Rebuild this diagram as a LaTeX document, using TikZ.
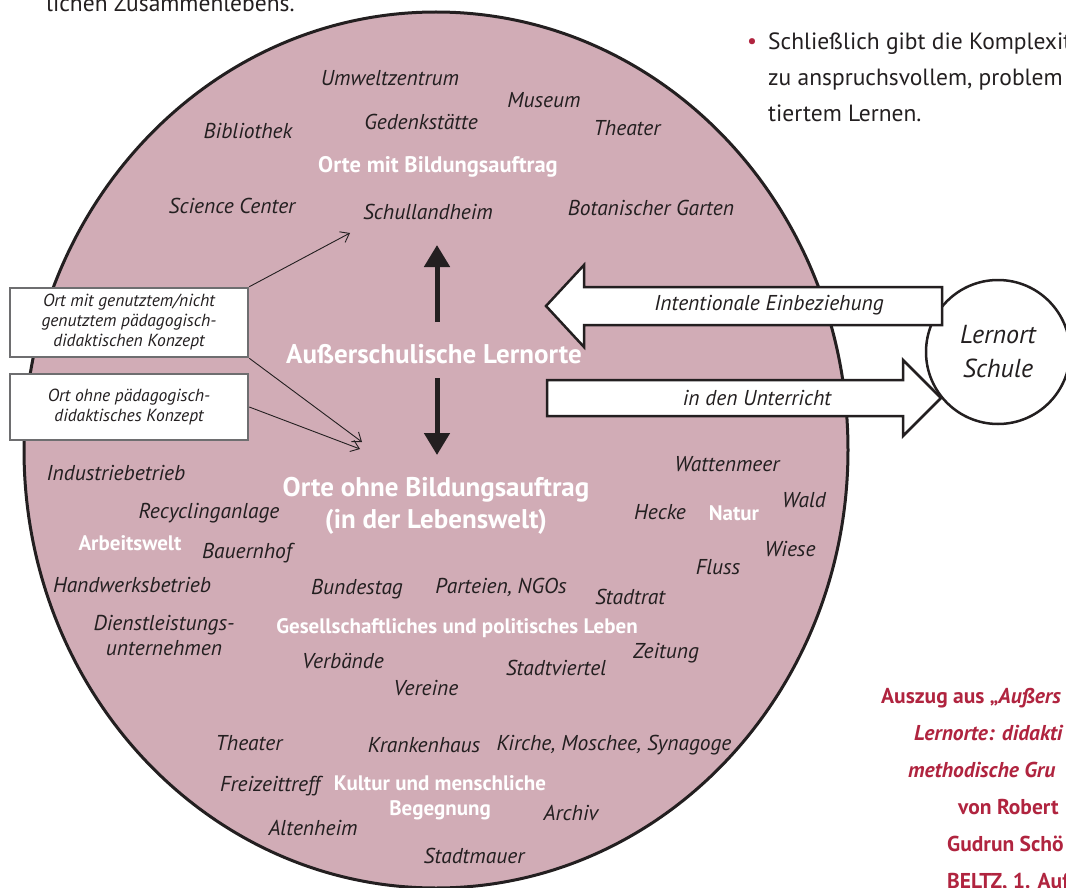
\documentclass[tikz,border=0pt]{standalone}
\usepackage{fontspec}
\setmainfont{PT Sans}
\usetikzlibrary{arrows.meta}

\definecolor{mauve}{RGB}{209,172,182}
\definecolor{ink}{RGB}{35,31,32}
\definecolor{frame}{RGB}{110,110,112}
\definecolor{beltzred}{RGB}{176,36,63}

\begin{document}
\begin{tikzpicture}[x=1pt, y=-1pt,
    place/.style={font=\itshape\fontsize{21.5}{24}\selectfont, text=ink, inner sep=0pt, align=center},
    field/.style={font=\bfseries\fontsize{21}{25}\selectfont, text=white, inner sep=0pt, align=center},
    title/.style={font=\bfseries\fontsize{27}{32}\selectfont, text=white, inner sep=0pt, align=center},
    notebox/.style={draw=frame, line width=2.5pt, fill=white, minimum width=238pt, inner sep=2pt,
        align=center, font=\itshape\fontsize{17.5}{20}\selectfont, text=ink},
    pointer/.style={ink, line width=0.9pt, -{Straight Barb[length=8pt,width=12pt]}},
    bigarrow/.style={ink, line width=5pt, -{Triangle[length=22pt,width=25pt]}},
    flow/.style={draw=ink, line width=2.5pt, fill=white, line join=miter},
    page/.style={font=\fontsize{23.5}{36}\selectfont, text=ink, anchor=base west, inner sep=0pt},
    credit/.style={font=\bfseries\fontsize{21.5}{37}\selectfont, text=beltzred, anchor=base west, inner sep=0pt}
]
    % Page size
    \useasboundingbox (0,0) rectangle (1066,888);
    \clip (0,0) rectangle (1066,888);

    % Surrounding page text
    \node[page] (prev) at (46,12) {lichen Zusammenlebens.};
    \node[text=beltzred, font=\fontsize{22}{22}\selectfont, anchor=base, inner sep=0pt] (bullet) at (752,49) {•};
    \node[page] (col1) at (768,50) {Schließlich gibt die Komplexit};
    \node[page] (col2) at (768,86) {zu anspruchsvollem, problem};
    \node[page] (col3) at (768,122) {tiertem Lernen.};

    % Big ellipse of learning places
    \draw[fill=mauve, draw=ink, line width=3pt] (436,450) ellipse [x radius=412pt, y radius=438pt];

    % Places with educational mission
    \node[place] (umwelt) at (390,78) {Umweltzentrum};
    \node[place] (museum) at (544,100) {Museum};
    \node[place] (biblio) at (248,131) {Bibliothek};
    \node[place] (gedenk) at (421,122) {Gedenkstätte};
    \node[place] (theaterA) at (627,128) {Theater};
    \node[field, font=\bfseries\fontsize{22.5}{25}\selectfont] (mitauftrag) at (438,167) {Orte mit Bildungsauftrag};
    \node[place] (science) at (232,206) {Science Center};
    \node[place] (schul) at (428,212) {Schullandheim};
    \node[place] (botanik) at (651,208) {Botanischer Garten};

    % Centre
    \node[title] (aussen) at (434,354) {Außerschulische Lernorte};
    \coordinate (upfoot) at (437,322);
    \coordinate (uptip) at (437,245);
    \coordinate (downfoot) at (437,378);
    \coordinate (downtip) at (437,455);
    \draw[bigarrow] (upfoot) -- (uptip);
    \draw[bigarrow] (downfoot) -- (downtip);

    % Places without educational mission
    \node[title] (ohneauftrag) at (436,506) {Orte ohne Bildungsauftrag\\(in der Lebenswelt)};
    \node[place] (industrie) at (116,473) {Industriebetrieb};
    \node[place] (recycling) at (209,513) {Recyclinganlage};
    \node[field] (arbeit) at (130,543) {Arbeitswelt};
    \node[place] (bauern) at (247,553) {Bauernhof};
    \node[place] (handwerk) at (132,585) {Handwerksbetrieb};
    \node[place, font=\itshape\fontsize{21.5}{25}\selectfont] (dienst) at (164,636) {Dienstleistungs-\\unternehmen};

    \node[place] (watt) at (727,464) {Wattenmeer};
    \node[place] (wald) at (804,500) {Wald};
    \node[place] (hecke) at (660,512) {Hecke};
    \node[field] (natur) at (734,513) {Natur};
    \node[place] (wiese) at (790,549) {Wiese};
    \node[place] (fluss) at (718,567) {Fluss};

    \node[place] (bundestag) at (357,589) {Bundestag};
    \node[place] (parteien) at (501,587) {Parteien, NGOs};
    \node[place] (stadtrat) at (630,597) {Stadtrat};
    \node[field] (gesell) at (457,628) {Gesellschaftliches und politisches Leben};
    \node[place] (verbaende) at (343,661) {Verbände};
    \node[place] (zeitung) at (666,653) {Zeitung};
    \node[place] (viertel) at (556,668) {Stadtviertel};
    \node[place] (vereine) at (426,688) {Vereine};

    \node[place] (theaterB) at (249,743) {Theater};
    \node[place] (kranken) at (424,745) {Krankenhaus};
    \node[place] (kirche) at (614,745) {Kirche, Moschee, Synagoge};
    \node[place] (freizeit) at (270,786) {Freizeittreff};
    \node[field] (kultur) at (440,798) {Kultur und menschliche\\Begegnung};
    \node[place] (archiv) at (571,813) {Archiv};
    \node[place] (alten) at (313,828) {Altenheim};
    \node[place] (mauer) at (474,856) {Stadtmauer};

    % Concept boxes and pointers
    \node[notebox, minimum height=69pt] (mitkonzept) at (129,322.5) {Ort mit genutztem/nicht\\genutztem pädagogisch-\\didaktischen Konzept};
    \node[notebox, minimum height=66pt] (ohnekonzept) at (129,407) {Ort ohne pädagogisch-\\didaktisches Konzept};
    \coordinate (tipA) at (350,233);
    \coordinate (tipB) at (362,442);
    \coordinate (tipC) at (360,449);
    \draw[pointer] (mitkonzept.north east) -- (tipA);
    \draw[pointer] (mitkonzept.south east) -- (tipB);
    \draw[pointer] (ohnekonzept.east) -- (tipC);

    % School and block arrows
    \node[circle, draw=ink, line width=2.5pt, fill=white, minimum size=144pt, align=center,
        font=\itshape\fontsize{26}{34}\selectfont, text=ink] (schule) at (998,352) {Lernort\\Schule};
    \draw[flow] (546,306) -- (584,265) -- (584,287) -- (942,287) -- (942,325) -- (584,325) -- (584,347) -- cycle;
    \draw[flow] (547,380) -- (903,380) -- (903,360) -- (941,398) -- (903,436) -- (903,416) -- (547,416) -- cycle;
    \node[place] (intent) at (769,305) {Intentionale Einbeziehung};
    \node[place] (unterricht) at (757,398) {in den Unterricht};

    % Source note
    \node[credit] (src1) at (881,703) {Auszug aus „\textit{Außers}};
    \node[credit] (src2) at (914,740) {\textit{Lernorte: didakti}};
    \node[credit] (src3) at (908,777) {\textit{methodische Gru}};
    \node[credit] (src4) at (958,814) {von Robert};
    \node[credit] (src5) at (947,851) {Gudrun Schö};
    \node[credit] (src6) at (947,888) {BELTZ, 1. Aufl};
\end{tikzpicture}
\end{document}
